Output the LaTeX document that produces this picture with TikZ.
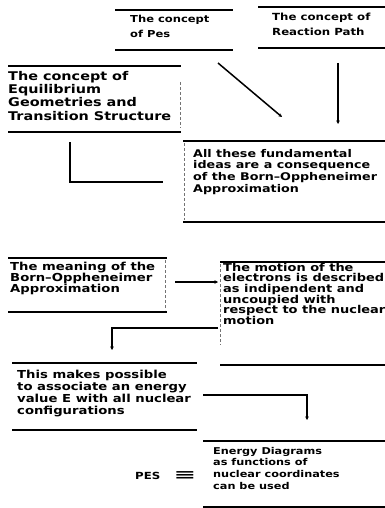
\documentclass[tikz,border=0pt]{standalone}
\usepackage{fontspec}
\usetikzlibrary{calc,arrows.meta}
\newfontfamily\panelfont{DejaVu Sans}[FakeStretch=1.2]
\newfontfamily\symfont{DejaVu Sans}
\begin{document}
\begin{tikzpicture}[x=1pt,y=-1pt,
  frame/.style={inner sep=0pt,outer sep=0pt,minimum width=#1},
  rule/.style={line width=1.8pt},
  side/.style={line width=0.5pt,densely dashed,black!55},
  link/.style={line width=1.5pt,-{Stealth[length=3.5pt,width=3.5pt]}},
  plain/.style={line width=1.5pt},
  txt/.style 2 args={inner sep=0pt,anchor=north west,align=left,
    font=\panelfont\bfseries\fontsize{#1}{#2}\selectfont}]
\useasboundingbox (0,0) rectangle (385,508);

% frames of the panels (top and bottom rules)
\node[frame=118,minimum height=40] (A) at (174,30) {};
\node[frame=127,minimum height=41] (B) at (321.5,27.5) {};
\node[frame=173,minimum height=66] (C) at (94.5,99) {};
\node[frame=202,minimum height=81] (D) at (284,181.5) {};
\node[frame=159,minimum height=54] (E) at (87.5,285) {};
\node[frame=165,minimum height=103] (F) at (302.5,313.5) {};
\node[frame=185,minimum height=67] (G) at (104.5,396.5) {};
\node[frame=182,minimum height=66] (H) at (294,474) {};
\foreach \b in {A,B,C,D,E,F,G,H}{
  \draw[rule] (\b.north west) -- (\b.north east);
  \draw[rule] (\b.south west) -- (\b.south east);
}
% faint side edges
\draw[side] ($(C.north east)+(-1,16)$) -- ($(C.south east)+(-1,-4)$);
\draw[side] ($(D.north west)+(1,2)$) -- ($(D.south west)+(1,-2)$);
\draw[side] ($(E.north east)+(-2,2)$) -- ($(E.south east)+(-2,-2)$);
\draw[side] ($(F.north west)+(0,2)$) -- ($(F.south west)+(0,-20)$);

% panel texts
\node[txt={9.6}{15}] (tA) at (130,14.7) {The concept\\of Pes};
\node[txt={9.8}{15}] (tB) at (272,12.5) {The concept of\\Reaction Path};
\node[txt={12}{13.3}] (tC) at (8,70.9) {The concept of\\Equilibrium\\Geometries and\\Transition Structure};
\node[txt={10.6}{11.7}] (tD) at (193,148.9) {All these fundamental\\ideas are a consequence\\of the Born–Oppheneimer\\Approximation};
\node[txt={11}{11}] (tE) at (10,261.6) {The meaning of the\\Born–Oppheneimer\\Approximation};
\node[txt={10.8}{10.6}] (tF) at (223,262.8) {The motion of the\\electrons is described\\as indipendent and\\uncoupied with\\respect to the nuclear\\motion};
\node[txt={11}{12}] (tG) at (17,369.6) {This makes possible\\to associate an energy\\value E with all nuclear\\configurations};
\node[txt={9.4}{11.7}] (tH) at (213,446.9) {Energy Diagrams\\as functions of\\nuclear coordinates\\can be used};

% PES identity
\node[txt={9.8}{12},anchor=base west] (pes) at (135,479) {PES};
\node[inner sep=0pt,font=\symfont\bfseries\fontsize{18}{18}\selectfont] (eqv) at (185,475.5) {\scalebox{1.5}[0.75]{≡}};

% connectors
\draw[link] ($(A.south east)+(-15,13)$) -- ($(D.north)+(-2,-24)$);
\draw[link] ($(B.south east)+(-47,15)$) -- ($(D.north east)+(-47,-17)$);
\draw[plain] ($(C.south)+(-24.5,10)$) |- ($(D.west)+(-20,0.5)$);
\draw[link] ($(E.east)+(8,-3)$) -- ($(F.west)+(-2,-31.5)$);
\draw[link] ($(F.west)+(-2,14.5)$) -| ($(G.north)+(7.5,-13)$);
\draw[link] ($(G.east)+(6,-1.5)$) -| ($(H.north)+(13,-21)$);
\end{tikzpicture}
\end{document}
